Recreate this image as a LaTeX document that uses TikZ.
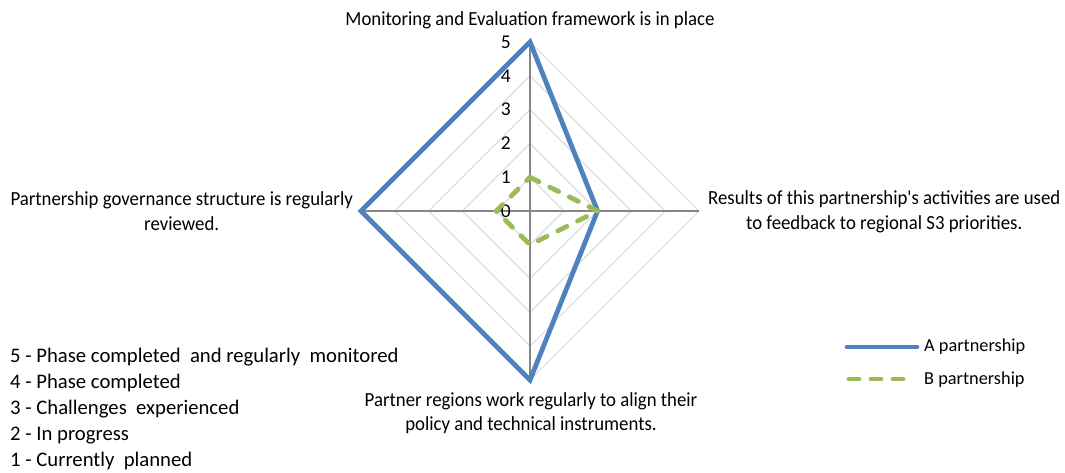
\documentclass[tikz,border=0pt]{standalone}
\usepackage{fontspec}
\setmainfont{Carlito}
\newfontfamily\narrowfont[FakeStretch=0.94]{Carlito}
\definecolor{seriesA}{HTML}{4F81BD}
\definecolor{seriesB}{HTML}{9BBB59}
\definecolor{ringgray}{HTML}{D9D9D9}
\definecolor{axisgray}{HTML}{868686}
\begin{document}
\begin{tikzpicture}[x=1pt,y=-1pt,
    catlabel/.style={font=\narrowfont\fontsize{20}{24.5}\selectfont, align=center, inner sep=0pt},
    ticklabel/.style={font=\fontsize{19.5}{20}\selectfont, anchor=east, inner sep=0pt},
    keytext/.style={font=\fontsize{18.3}{20}\selectfont, anchor=west, inner sep=0pt},
    scaletext/.style={font=\fontsize{20.7}{26}\selectfont, align=left, anchor=north west, inner sep=0pt},
    lineA/.style={seriesA, line width=4.8pt, line join=miter},
    lineB/.style={seriesB, line width=4.8pt, dash pattern=on 10pt off 12pt, line cap=round, line join=round}]
	\useasboundingbox (0,0) rectangle (1065,472);
	\coordinate (c) at (530,211);
	
	\foreach \r in {1,...,5}
		\draw[ringgray, line width=1pt, shift={(c)}] (0,-33.8*\r) -- (33.8*\r,0) -- (0,33.8*\r) -- (-33.8*\r,0) -- cycle;
	\draw[axisgray, line width=1.2pt, shift={(c)}] (0,-169) -- (0,169);
	\draw[axisgray, line width=1.2pt, shift={(c)}] (-169,0) -- (169,0);
	
	\foreach \v in {0,...,5}
		\node[ticklabel] (tick\v) at (511,211-33.8*\v) {\v};
	
	\draw[lineA, shift={(c)}] (0,-169) -- (67.6,0) -- (0,169) -- (-169,0) -- cycle;
	\draw[lineB, shift={(c)}] (0,-33.8) -- (67.6,0) -- (0,33.8) -- (-33.8,0) -- cycle;
	
	\node[catlabel] (catTop) at (530,20) {Monitoring and Evaluation framework is in place};
	\node[catlabel, anchor=east] (catLeft) at (353,211) {Partnership governance structure is regularly\\reviewed.};
	\node[catlabel, anchor=west] (catRight) at (708,212) {Results of this partnership's activities are used\\to feedback to regional S3 priorities.};
	\node[catlabel, anchor=north] (catBottom) at (531,392) {Partner regions work regularly to align their\\policy and technical instruments.};
	
	\node[scaletext] (scale) at (10,348) {5 - Phase completed~ and regularly~ monitored\\4 - Phase completed\\3 - Challenges~ experienced\\2 - In progress\\1 - Currently~ planned};
	
	\node[keytext] (keyA) at (924,347) {A partnership};
	\node[keytext] (keyB) at (924,380) {B partnership};
	\draw[lineA, line cap=round] (847,347) -- (917,347);
	\draw[lineB] (849,379) -- (910,379);
\end{tikzpicture}
\end{document}
